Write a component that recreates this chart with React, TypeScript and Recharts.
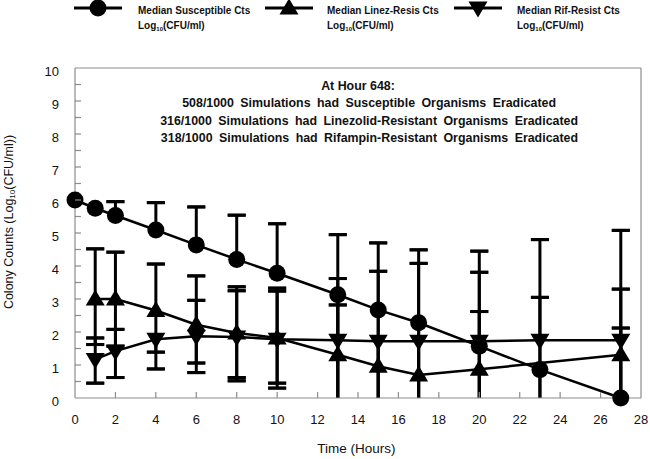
import { LineChart, Line, XAxis, YAxis, ErrorBar, ReferenceLine } from "recharts";

const SANS = '"Liberation Sans", Arial, Helvetica, sans-serif';
const AXIS_GRAY = "#8c8c8c";

// sampling times (hours)
const hours = [0, 1, 2, 4, 6, 8, 10, 13, 15, 17, 20, 23, 27];

// medians, log10(CFU/ml); high/low = ends of the error bars (0 = runs down to the axis)
const susceptible = [6.0, 5.75, 5.53, 5.09, 4.64, 4.2, 3.78, 3.13, 2.67, 2.28, 1.57, 0.86, 0.0];
const susceptibleHigh = [null, null, 5.95, 5.92, 5.79, 5.54, 5.28, 4.95, 4.7, 4.49, 4.45, 4.8, 5.08];
const susceptibleLow = [null, null, null, null, null, null, null, 0, 0, 0, 0, 0, null];

const linezolid = [null, 3.0, 3.0, 2.65, 2.22, 1.97, 1.82, 1.31, 0.96, 0.7, 0.87, null, 1.31];
const linezolidHigh = [null, 4.52, 4.42, 4.06, 3.7, 3.37, 3.33, 3.62, 3.84, 4.08, 3.81, null, 3.3];
const linezolidLow = [null, 1.62, 1.57, 0.88, 0.77, 0.52, 0.3, 0, 0, 0, 0, null, 0];

const rifampin = [null, 1.17, 1.42, 1.78, 1.87, 1.85, 1.78, 1.75, 1.72, 1.72, 1.72, 1.75, 1.75];
const rifampinHigh = [null, 1.82, 2.08, null, 2.96, 3.25, 3.24, 2.82, null, null, 2.62, 3.05, 2.12];
const rifampinLow = [null, 0.45, 0.62, 1.39, 1.06, 0.62, 0.45, 0, 0, 0, 0, 0, 0];

const xTicks = [0, 2, 4, 6, 8, 10, 12, 14, 16, 18, 20, 22, 24, 26, 28];
const yTicks = [0, 0.5, 1, 1.5, 2, 2.5, 3, 3.5, 4, 4.5, 5, 5.5, 6, 6.5, 7, 7.5, 8, 8.5, 9, 9.5, 10];

const legendItems = [
  { name: "Median Susceptible Cts", kind: "circle", mx: 98, tx: 138 },
  { name: "Median Linez-Resis Cts", kind: "up", mx: 289, tx: 327 },
  { name: "Median Rif-Resist Cts", kind: "down", mx: 478, tx: 517 },
];

const notes = [
  "508/1000 Simulations had Susceptible Organisms Eradicated",
  "316/1000 Simulations had Linezolid-Resistant Organisms Eradicated",
  "318/1000 Simulations had Rifampin-Resistant Organisms Eradicated",
];

const series = [
  { key: "lin", kind: "up", values: linezolid, high: linezolidHigh, low: linezolidLow },
  { key: "rif", kind: "down", values: rifampin, high: rifampinHigh, low: rifampinLow },
  { key: "sus", kind: "circle", values: susceptible, high: susceptibleHigh, low: susceptibleLow },
];

const data = hours.map((hour, i) => {
  const row: Record<string, any> = { hour };
  series.forEach((s) => {
    const v = s.values[i];
    const h = s.high[i];
    const l = s.low[i];
    row[s.key] = v;
    // stem: vertical line with no caps
    row[s.key + "Stem"] =
      v == null || (h == null && l == null) ? null : [l == null ? 0 : v - l, h == null ? 0 : h - v];
    // cap positions, drawn by zero-length error bars
    row[s.key + "Hi"] = h;
    row[s.key + "HiCap"] = h == null ? null : [0, 0];
    row[s.key + "Lo"] = l == null || l === 0 ? null : l;
    row[s.key + "LoCap"] = l == null || l === 0 ? null : [0, 0];
  });
  return row;
});

function Marker({ kind, cx, cy, s = 1 }: { kind: string; cx: number; cy: number; s?: number }) {
  if (kind === "circle") return <circle cx={cx} cy={cy} r={8.5 * s} fill="#000" />;
  const a = 9.5 * s;
  const b = 6.5 * s;
  if (kind === "up")
    return <polygon points={`${cx},${cy - a} ${cx - a},${cy + b} ${cx + a},${cy + b}`} fill="#000" />;
  return <polygon points={`${cx},${cy + a} ${cx - a},${cy - b} ${cx + a},${cy - b}`} fill="#000" />;
}

const makeDot = (kind: string) => (props: any) => {
  const { cx, cy, index, value } = props;
  if (value == null || cx == null || cy == null) return <g key={`${kind}-${index}`} />;
  return (
    <g key={`${kind}-${index}`}>
      <Marker kind={kind} cx={cx} cy={cy} />
    </g>
  );
};

const YTick = (props: any) => {
  const { x, y, payload } = props;
  const v = payload.value;
  return (
    <g>
      {v > 0 && v < 10 && <line x1={x} x2={x + 6} y1={y} y2={y} stroke={AXIS_GRAY} strokeWidth={1.2} />}
      {Number.isInteger(v) && (
        <text x={x - 16} y={y + 3} textAnchor="end" dominantBaseline="central" fontSize={13} fontFamily={SANS} fill="#111">
          {v}
        </text>
      )}
    </g>
  );
};

const XTick = (props: any) => {
  const { x, y, payload } = props;
  const v = payload.value;
  return (
    <g>
      {v > 0 && v < 28 && <line x1={x} x2={x} y1={y} y2={y - 6} stroke={AXIS_GRAY} strokeWidth={1.2} />}
      <text x={x} y={y + 21} textAnchor="middle" dominantBaseline="central" fontSize={13} fontFamily={SANS} fill="#111">
        {v}
      </text>
    </g>
  );
};

const YTitle = (props: any) => {
  const { viewBox } = props;
  const x = viewBox.x + 9;
  const y = viewBox.y + viewBox.height / 2 - 11;
  return (
    <text
      x={x}
      y={y}
      transform={`rotate(-90, ${x}, ${y})`}
      textAnchor="middle"
      dominantBaseline="central"
      fontSize={12.5}
      fontFamily={SANS}
      fill="#111"
    >
      Colony Counts (Log
      <tspan fontSize={8} dy={3}>10</tspan>
      <tspan dy={-3}>(CFU/ml))</tspan>
    </text>
  );
};

const XTitle = (props: any) => {
  const { viewBox } = props;
  return (
    <text
      x={viewBox.x + viewBox.width / 2 - 1.5}
      y={viewBox.y + 50}
      textAnchor="middle"
      dominantBaseline="central"
      fontSize={13.5}
      fontFamily={SANS}
      fill="#111"
    >
      Time (Hours)
    </text>
  );
};

function Overlay() {
  return (
    <svg
      width={650}
      height={459}
      style={{ position: "absolute", left: 0, top: 0, pointerEvents: "none" }}
    >
      {legendItems.map((it) => (
        <g key={it.name}>
          <line x1={it.mx - 24} x2={it.mx + 24} y1={8} y2={8} stroke="#000" strokeWidth={3} />
          <Marker kind={it.kind} cx={it.mx} cy={8} />
          <text x={it.tx} y={14} fontSize={10} fontWeight="bold" fontFamily={SANS} fill="#111">
            {it.name}
          </text>
          <text x={it.tx} y={28.5} fontSize={10} fontWeight="bold" fontFamily={SANS} fill="#111">
            Log
            <tspan fontSize={6} dy={2}>10</tspan>
            <tspan dy={-2}>(CFU/ml)</tspan>
          </text>
        </g>
      ))}
      <text x={358} y={90.3} textAnchor="middle" fontSize={12.4} fontWeight="bold" fontFamily={SANS} fill="#111">
        At Hour 648:
      </text>
      {notes.map((n, i) => (
        <text
          key={n}
          x={i === 0 ? 556 : 578}
          y={107.3 + i * 17.5}
          textAnchor="end"
          fontSize={12.4}
          fontWeight="bold"
          fontFamily={SANS}
          fill="#111"
          style={{ wordSpacing: "3px" }}
        >
          {n}
        </text>
      ))}
    </svg>
  );
}

export default function App() {
  return (
    <div style={{ position: "absolute", left: 0, top: 0, width: 650, height: 459, background: "#fff" }}>
      <LineChart width={650} height={459} data={data} margin={{ top: 68, right: 9, bottom: 0, left: 0 }}>
        <XAxis
          dataKey="hour"
          type="number"
          domain={[0, 28]}
          ticks={xTicks}
          interval={0}
          height={61}
          tickSize={0}
          tickMargin={0}
          tickLine={false}
          axisLine={{ stroke: AXIS_GRAY, strokeWidth: 1.2 }}
          tick={<XTick />}
          label={<XTitle />}
        />
        <YAxis
          type="number"
          domain={[0, 10]}
          ticks={yTicks}
          interval={0}
          width={75}
          tickSize={0}
          tickMargin={0}
          tickLine={false}
          axisLine={{ stroke: AXIS_GRAY, strokeWidth: 1.2 }}
          tick={<YTick />}
          label={<YTitle />}
        />
        <ReferenceLine y={10} stroke={AXIS_GRAY} strokeWidth={1.2} />
        <ReferenceLine x={28} stroke={AXIS_GRAY} strokeWidth={1.2} />

        {series.map((s) =>
          ["Hi", "Lo"].map((end) => (
            <Line
              key={s.key + end}
              dataKey={s.key + end}
              stroke="none"
              dot={false}
              activeDot={false}
              isAnimationActive={false}
              legendType="none"
            >
              <ErrorBar
                dataKey={s.key + end + "Cap"}
                width={9}
                strokeWidth={3}
                stroke="#000"
                direction="y"
                isAnimationActive={false}
              />
            </Line>
          ))
        )}

        {series.map((s) => (
          <Line
            key={s.key}
            type="linear"
            dataKey={s.key}
            stroke="#000"
            strokeWidth={2.5}
            connectNulls
            dot={makeDot(s.kind)}
            activeDot={false}
            isAnimationActive={false}
          >
            <ErrorBar
              dataKey={s.key + "Stem"}
              width={0}
              strokeWidth={3}
              stroke="#000"
              direction="y"
              isAnimationActive={false}
            />
          </Line>
        ))}
      </LineChart>
      <Overlay />
    </div>
  );
}
